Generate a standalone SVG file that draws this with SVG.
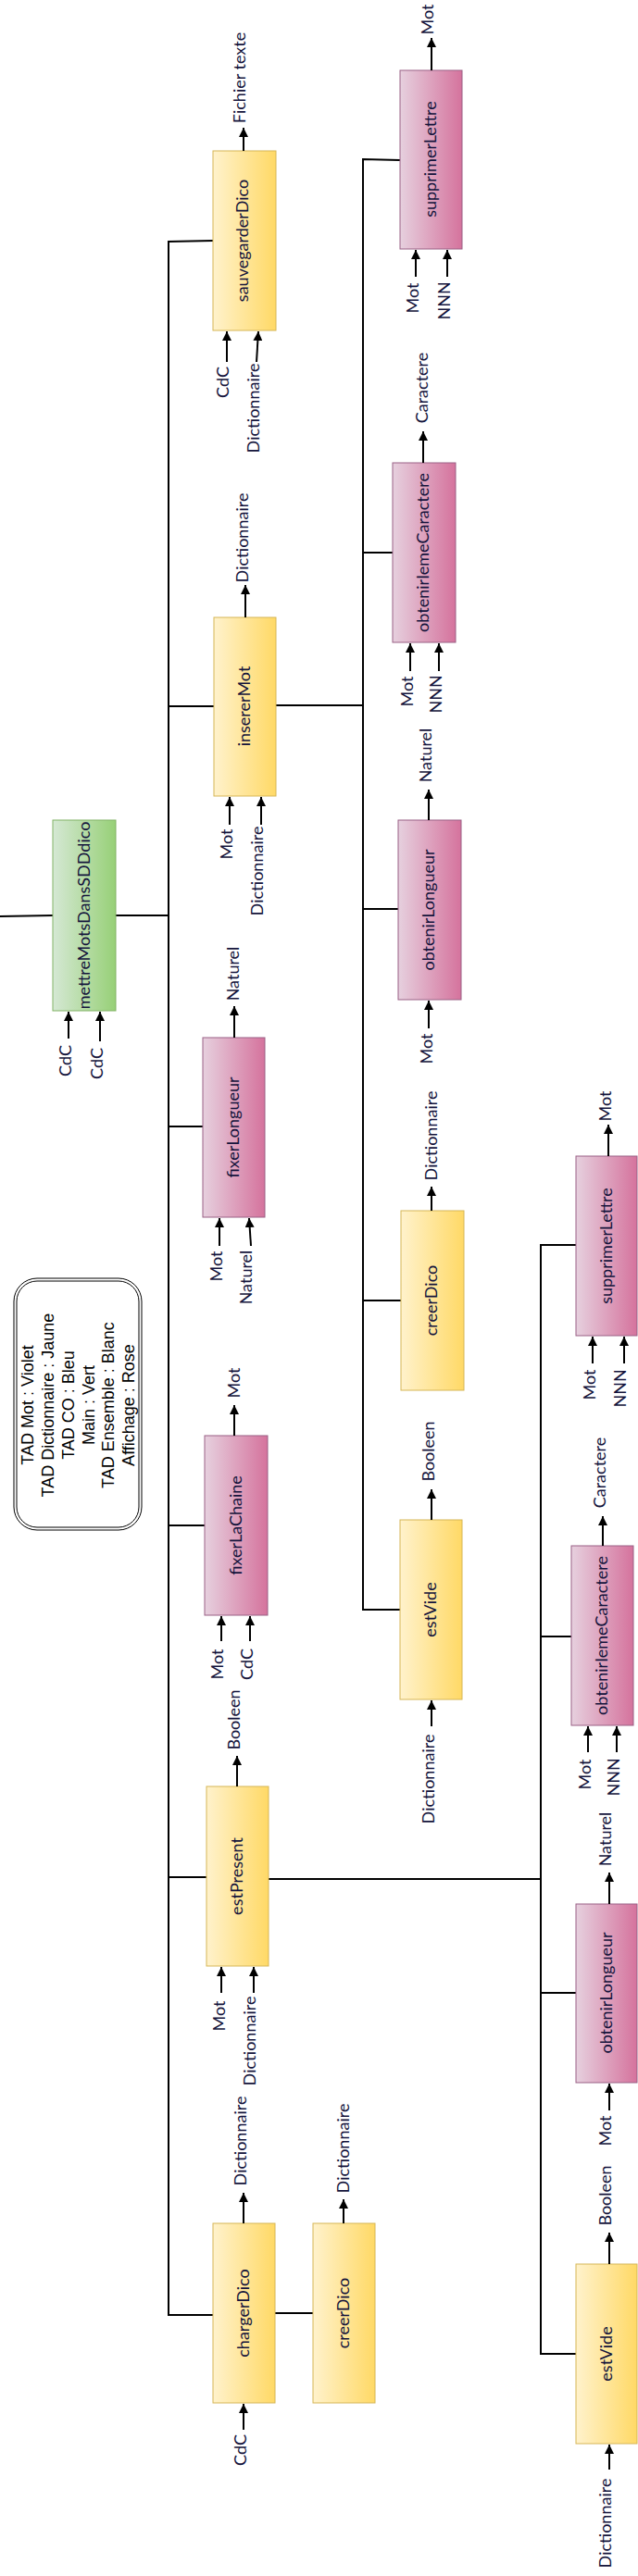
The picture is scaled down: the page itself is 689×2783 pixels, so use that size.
<svg xmlns="http://www.w3.org/2000/svg" width="689" height="2783" viewBox="0 0 689 2783">
<style>
.t{font-family:Lato,"Noto Sans",sans-serif;font-size:18px;fill:#14143c;text-anchor:middle}
.lg{font-family:"Liberation Sans",Arial,sans-serif;font-size:18px;fill:#000;text-anchor:middle}
.y{fill:url(#gy);stroke:#d6b656;stroke-width:1}
.p{fill:url(#gp);stroke:#996185;stroke-width:1}
.g{fill:url(#gg);stroke:#82b366;stroke-width:1}
.c{fill:none;stroke:#000;stroke-width:2}
.a{fill:none;stroke:#000;stroke-width:2;marker-end:url(#ah)}
</style>
<defs>
<linearGradient id="gy" x1="0" y1="0" x2="1" y2="0"><stop offset="0" stop-color="#fff2cc"/><stop offset="1" stop-color="#ffd966"/></linearGradient>
<linearGradient id="gp" x1="0" y1="0" x2="1" y2="0"><stop offset="0" stop-color="#e6d0de"/><stop offset="1" stop-color="#d5739d"/></linearGradient>
<linearGradient id="gg" x1="0" y1="0" x2="1" y2="0"><stop offset="0" stop-color="#d5e8d4"/><stop offset="1" stop-color="#97d077"/></linearGradient>
<marker id="ah" markerUnits="userSpaceOnUse" markerWidth="10" markerHeight="10" refX="10" refY="5" orient="auto"><path d="M0,0 L10,5 L0,10 z" fill="#000"/></marker>
</defs>

<g id="connectors">
<path class="c" d="M0,990 L57,989"/>
<path class="c" d="M125,989 L182,989"/>
<path class="c" d="M230,260 L182,261 L182,2501 L230,2501"/>
<path class="c" d="M182,763 L231,763"/>
<path class="c" d="M182,1217 L219,1217"/>
<path class="c" d="M182,1648 L221,1648"/>
<path class="c" d="M182,2028 L223,2028"/>
<path class="c" d="M297,2499 L338,2499"/>
<path class="c" d="M432,173 L392,172 L392,1739 L432,1739"/>
<path class="c" d="M298,762 L392,762"/>
<path class="c" d="M392,597 L424,597"/>
<path class="c" d="M392,982 L430,982"/>
<path class="c" d="M392,1405 L433,1405"/>
<path class="c" d="M622,1345 L584,1345 L584,2543 L622,2543"/>
<path class="c" d="M290,2030 L584,2030"/>
<path class="c" d="M584,1768 L617,1768"/>
<path class="c" d="M584,2153 L622,2153"/>
</g>

<g id="legend">
<rect x="15" y="1381" width="138" height="272" rx="25" fill="#fff" stroke="#000" stroke-width="1"/>
<rect x="18" y="1384" width="132" height="266" rx="22" fill="none" stroke="#000" stroke-width="1"/>
<text class="lg" transform="translate(30,1518) rotate(-90)" dy="0.35em">TAD Mot : Violet</text>
<text class="lg" transform="translate(52,1518) rotate(-90)" dy="0.35em">TAD Dictionnaire : Jaune</text>
<text class="lg" transform="translate(74,1518) rotate(-90)" dy="0.35em">TAD CO : Bleu</text>
<text class="lg" transform="translate(96,1518) rotate(-90)" dy="0.35em">Main : Vert</text>
<text class="lg" transform="translate(117,1518) rotate(-90)" dy="0.35em">TAD Ensemble : Blanc</text>
<text class="lg" transform="translate(139,1518) rotate(-90)" dy="0.35em">Affichage : Rose</text>
</g>

<g id="mettreMotsDansSDDdico">
<rect class="g" x="57" y="886" width="68" height="206"/>
<text class="t" transform="translate(91,989) rotate(-90)" dy="0.35em">mettreMotsDansSDDdico</text>
<path class="a" d="M74,1122 L74,1093"/>
<path class="a" d="M108,1125 L108,1093"/>
<text class="t" transform="translate(71,1146) rotate(-90)" dy="0.35em">CdC</text>
<text class="t" transform="translate(105,1149) rotate(-90)" dy="0.35em">CdC</text>
</g>

<g id="sauvegarderDico">
<rect class="y" x="230" y="163" width="68" height="194"/>
<text class="t" transform="translate(262,260) rotate(-90)" dy="0.35em">sauvegarderDico</text>
<path class="a" d="M263,163 L263,138"/>
<text class="t" transform="translate(259,84) rotate(-90)" dy="0.35em">Fichier texte</text>
<path class="a" d="M245,391 L245,358"/>
<path class="a" d="M277,391 L279,358"/>
<text class="t" transform="translate(241,413) rotate(-90)" dy="0.35em">CdC</text>
<text class="t" transform="translate(274,441) rotate(-90)" dy="0.35em">Dictionnaire</text>
</g>

<g id="insererMot">
<rect class="y" x="231" y="667" width="67" height="193"/>
<text class="t" transform="translate(264,763) rotate(-90)" dy="0.35em">insererMot</text>
<path class="a" d="M265,667 L265,632"/>
<text class="t" transform="translate(262,581) rotate(-90)" dy="0.35em">Dictionnaire</text>
<path class="a" d="M248,891 L248,861"/>
<path class="a" d="M282,891 L282,861"/>
<text class="t" transform="translate(245,912) rotate(-90)" dy="0.35em">Mot</text>
<text class="t" transform="translate(278,941) rotate(-90)" dy="0.35em">Dictionnaire</text>
</g>

<g id="fixerLongueur">
<rect class="p" x="219" y="1121" width="67" height="194"/>
<text class="t" transform="translate(252,1218) rotate(-90)" dy="0.35em">fixerLongueur</text>
<path class="a" d="M253,1121 L253,1087"/>
<text class="t" transform="translate(252,1052) rotate(-90)" dy="0.35em">Naturel</text>
<path class="a" d="M237,1346 L237,1316"/>
<path class="a" d="M271,1346 L269,1316"/>
<text class="t" transform="translate(234,1368) rotate(-90)" dy="0.35em">Mot</text>
<text class="t" transform="translate(266,1380) rotate(-90)" dy="0.35em">Naturel</text>
</g>

<g id="fixerLaChaine">
<rect class="p" x="221" y="1551" width="68" height="194"/>
<text class="t" transform="translate(255,1648) rotate(-90)" dy="0.35em">fixerLaChaine</text>
<path class="a" d="M253,1551 L253,1518"/>
<text class="t" transform="translate(253,1494) rotate(-90)" dy="0.35em">Mot</text>
<path class="a" d="M239,1773 L239,1746"/>
<path class="a" d="M270,1773 L270,1746"/>
<text class="t" transform="translate(235,1798) rotate(-90)" dy="0.35em">Mot</text>
<text class="t" transform="translate(267,1798) rotate(-90)" dy="0.35em">CdC</text>
</g>

<g id="estPresent">
<rect class="y" x="223" y="1930" width="67" height="194"/>
<text class="t" transform="translate(256,2027) rotate(-90)" dy="0.35em">estPresent</text>
<path class="a" d="M256,1930 L256,1897"/>
<text class="t" transform="translate(253,1858) rotate(-90)" dy="0.35em">Booleen</text>
<path class="a" d="M239,2153 L239,2125"/>
<path class="a" d="M274,2153 L274,2125"/>
<text class="t" transform="translate(237,2178) rotate(-90)" dy="0.35em">Mot</text>
<text class="t" transform="translate(270,2205) rotate(-90)" dy="0.35em">Dictionnaire</text>
</g>

<g id="chargerDico">
<rect class="y" x="230" y="2402" width="67" height="194"/>
<text class="t" transform="translate(263,2499) rotate(-90)" dy="0.35em">chargerDico</text>
<path class="a" d="M263,2402 L263,2369"/>
<text class="t" transform="translate(260,2313) rotate(-90)" dy="0.35em">Dictionnaire</text>
<path class="a" d="M263,2625 L263,2597"/>
<text class="t" transform="translate(260,2647) rotate(-90)" dy="0.35em">CdC</text>
</g>

<g id="creerDico2">
<rect class="y" x="338" y="2402" width="67" height="194"/>
<text class="t" transform="translate(371,2499) rotate(-90)" dy="0.35em">creerDico</text>
<path class="a" d="M371,2402 L371,2376"/>
<text class="t" transform="translate(371,2321) rotate(-90)" dy="0.35em">Dictionnaire</text>
</g>

<g id="supprimerLettre1">
<rect class="p" x="432" y="76" width="67" height="193"/>
<text class="t" transform="translate(465,172) rotate(-90)" dy="0.35em">supprimerLettre</text>
<path class="a" d="M466,76 L466,41"/>
<text class="t" transform="translate(462,21) rotate(-90)" dy="0.35em">Mot</text>
<path class="a" d="M449,299 L449,270"/>
<path class="a" d="M483,299 L483,270"/>
<text class="t" transform="translate(446,322) rotate(-90)" dy="0.35em">Mot</text>
<text class="t" transform="translate(480,325) rotate(-90)" dy="0.35em">NNN</text>
</g>

<g id="obtenirIemeCaractere1">
<rect class="p" x="424" y="500" width="68" height="194"/>
<text class="t" transform="translate(457,597) rotate(-90)" dy="0.35em">obtenirIemeCaractere</text>
<path class="a" d="M457,500 L457,466"/>
<text class="t" transform="translate(456,419) rotate(-90)" dy="0.35em">Caractere</text>
<path class="a" d="M443,725 L443,695"/>
<path class="a" d="M474,725 L474,695"/>
<text class="t" transform="translate(440,747) rotate(-90)" dy="0.35em">Mot</text>
<text class="t" transform="translate(471,750) rotate(-90)" dy="0.35em">NNN</text>
</g>

<g id="obtenirLongueur1">
<rect class="p" x="430" y="886" width="68" height="194"/>
<text class="t" transform="translate(463,983) rotate(-90)" dy="0.35em">obtenirLongueur</text>
<path class="a" d="M463,886 L463,853"/>
<text class="t" transform="translate(460,816) rotate(-90)" dy="0.35em">Naturel</text>
<path class="a" d="M463,1111 L463,1081"/>
<text class="t" transform="translate(461,1133) rotate(-90)" dy="0.35em">Mot</text>
</g>

<g id="creerDico1">
<rect class="y" x="433" y="1308" width="68" height="194"/>
<text class="t" transform="translate(466,1405) rotate(-90)" dy="0.35em">creerDico</text>
<path class="a" d="M466,1308 L466,1282"/>
<text class="t" transform="translate(466,1227) rotate(-90)" dy="0.35em">Dictionnaire</text>
</g>

<g id="estVide1">
<rect class="y" x="432" y="1642" width="67" height="194"/>
<text class="t" transform="translate(465,1739) rotate(-90)" dy="0.35em">estVide</text>
<path class="a" d="M466,1642 L466,1609"/>
<text class="t" transform="translate(463,1568) rotate(-90)" dy="0.35em">Booleen</text>
<path class="a" d="M466,1865 L466,1837"/>
<text class="t" transform="translate(463,1922) rotate(-90)" dy="0.35em">Dictionnaire</text>
</g>

<g id="supprimerLettre2">
<rect class="p" x="622" y="1249" width="66" height="194"/>
<text class="t" transform="translate(655,1346) rotate(-90)" dy="0.35em">supprimerLettre</text>
<path class="a" d="M657,1249 L657,1215"/>
<text class="t" transform="translate(654,1195) rotate(-90)" dy="0.35em">Mot</text>
<path class="a" d="M640,1473 L640,1444"/>
<path class="a" d="M674,1473 L674,1444"/>
<text class="t" transform="translate(637,1496) rotate(-90)" dy="0.35em">Mot</text>
<text class="t" transform="translate(670,1500) rotate(-90)" dy="0.35em">NNN</text>
</g>

<g id="obtenirIemeCaractere2">
<rect class="p" x="617" y="1670" width="67" height="194"/>
<text class="t" transform="translate(650,1767) rotate(-90)" dy="0.35em">obtenirIemeCaractere</text>
<path class="a" d="M651,1670 L651,1638"/>
<text class="t" transform="translate(648,1591) rotate(-90)" dy="0.35em">Caractere</text>
<path class="a" d="M635,1893 L635,1865"/>
<path class="a" d="M666,1893 L666,1865"/>
<text class="t" transform="translate(632,1917) rotate(-90)" dy="0.35em">Mot</text>
<text class="t" transform="translate(663,1920) rotate(-90)" dy="0.35em">NNN</text>
</g>

<g id="obtenirLongueur2">
<rect class="p" x="622" y="2057" width="66" height="193"/>
<text class="t" transform="translate(655,2153) rotate(-90)" dy="0.35em">obtenirLongueur</text>
<path class="a" d="M658,2057 L658,2023"/>
<text class="t" transform="translate(654,1987) rotate(-90)" dy="0.35em">Naturel</text>
<path class="a" d="M658,2280 L658,2251"/>
<text class="t" transform="translate(654,2302) rotate(-90)" dy="0.35em">Mot</text>
</g>

<g id="estVide2">
<rect class="y" x="622" y="2446" width="66" height="194"/>
<text class="t" transform="translate(655,2543) rotate(-90)" dy="0.35em">estVide</text>
<path class="a" d="M658,2446 L658,2412"/>
<text class="t" transform="translate(654,2372) rotate(-90)" dy="0.35em">Booleen</text>
<path class="a" d="M658,2668 L658,2641"/>
<text class="t" transform="translate(654,2726) rotate(-90)" dy="0.35em">Dictionnaire</text>
</g>
</svg>
